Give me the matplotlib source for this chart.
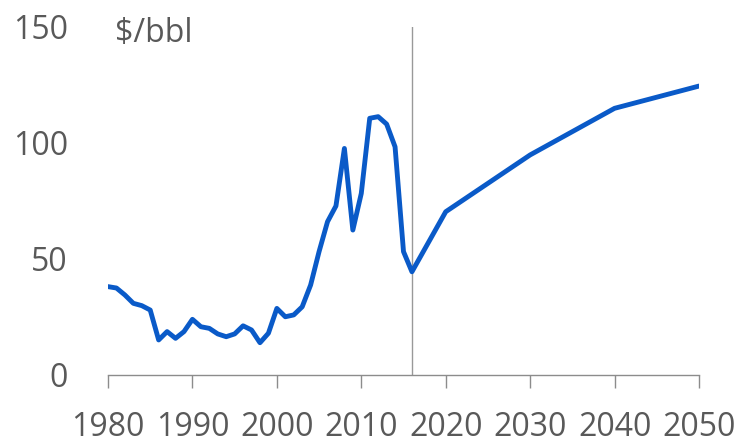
import matplotlib
matplotlib.use("Agg")
import matplotlib.pyplot as plt

# historical price (approx)
hist_years = list(range(1980, 2017))
hist_price = [37.9, 37.3, 34.3, 30.7, 29.7, 27.8, 14.9, 18.5, 15.6, 18.5,
              23.8, 20.6, 19.9, 17.5, 16.3, 17.5, 21.0, 19.2, 13.7, 17.8,
              28.5, 24.9, 25.7, 29.2, 38.6, 53.0, 65.9, 72.7, 97.5, 62.3,
              78.1, 110.5, 111.2, 108.0, 98.2, 53.0, 44.3]
# projection
proj_years = [2016, 2020, 2030, 2040, 2050]
proj_price = [44.3, 70.2, 94.7, 114.8, 124.4]

split_year = 2016
xticks = [1980, 1990, 2000, 2010, 2020, 2030, 2040, 2050]
yticks = [0, 50, 100, 150]

plt.rcParams['font.family'] = ['Open Sans', 'DejaVu Sans']
txt_color = '#595959'
blue = '#0A5AC8'

fig = plt.figure(figsize=(7.4, 4.43), dpi=100)
ax = fig.add_axes([108 / 740, 1 - 374.5 / 443, 591 / 740, 347.8 / 443])

years = hist_years + proj_years[1:]
price = hist_price + proj_price[1:]
ax.plot(years, price, color=blue, lw=3.5, solid_joinstyle='round',
        solid_capstyle='round', zorder=3)
ax.axvline(split_year, color='#999999', lw=1.0, zorder=2)

ax.set_xlim(1980, 2050)
ax.set_ylim(0, 150)
ax.set_xticks(xticks)
ax.set_yticks(yticks)

for s in ['top', 'right', 'left']:
    ax.spines[s].set_visible(False)
ax.spines['bottom'].set_color('#8c8c8c')
ax.spines['bottom'].set_linewidth(1.0)

ax.tick_params(axis='x', direction='out', length=9, width=1.0,
               color='#8c8c8c', labelsize=23, labelcolor=txt_color, pad=17)
ax.tick_params(axis='y', length=0, labelsize=23, labelcolor=txt_color, pad=29)

fig.text(115 / 740, 1 - 42 / 443, '\\$/bbl', fontsize=23, color=txt_color,
         va='baseline', ha='left')

fig.savefig('out.png', dpi=100)
